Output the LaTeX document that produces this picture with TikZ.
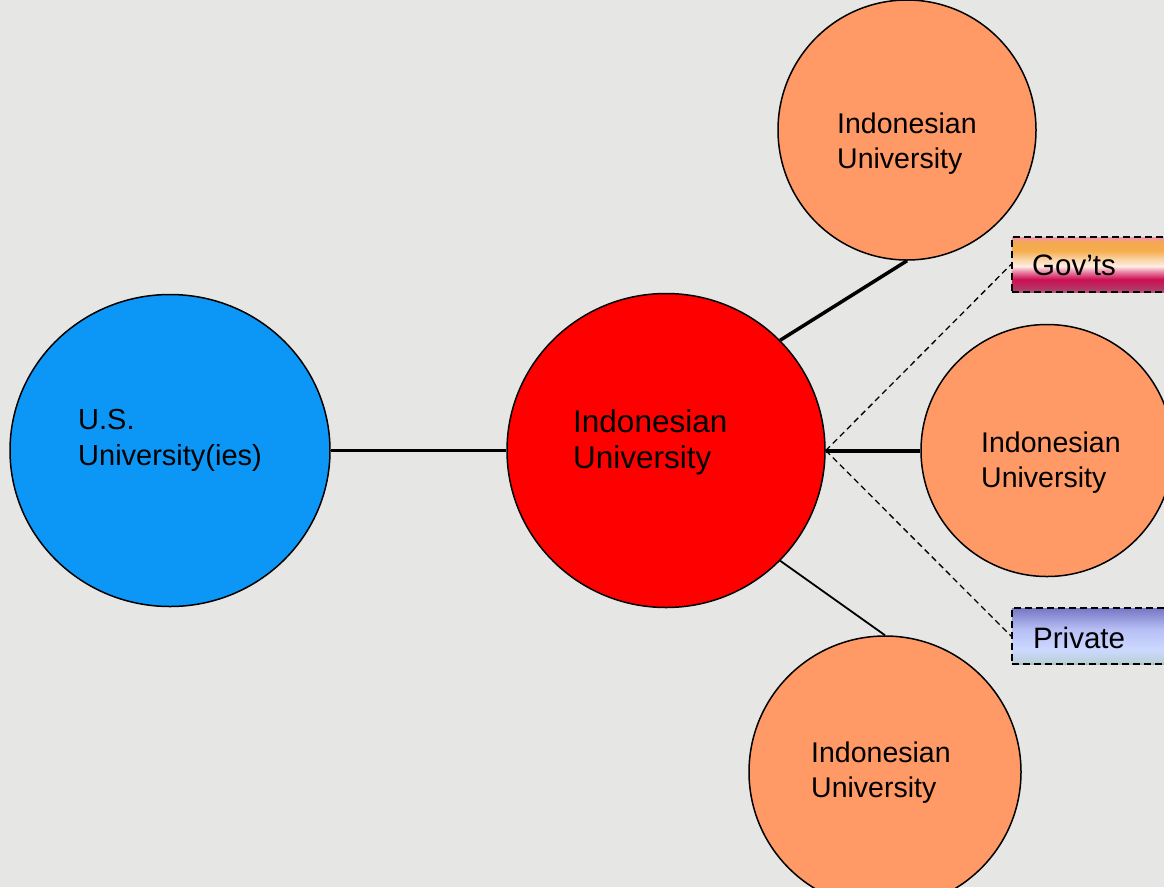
\documentclass[tikz,border=0pt]{standalone}
\usepackage{fontspec}
\setmainfont{Liberation Sans}
\usetikzlibrary{shapes.geometric}
\definecolor{bg}{RGB}{230,230,228}
\definecolor{usblue}{RGB}{12,150,245}
\definecolor{idorange}{RGB}{255,153,102}
\pgfdeclareverticalshading{govshade}{100bp}{%
  rgb(0bp)=(0.78,0.48,0.38);
  rgb(5bp)=(0.70,0.22,0.42);
  rgb(14bp)=(0.80,0.06,0.32);
  rgb(20bp)=(0.90,0.45,0.60);
  rgb(26bp)=(1.00,0.93,0.90);
  rgb(33bp)=(0.98,0.82,0.62);
  rgb(40bp)=(0.96,0.68,0.30);
  rgb(48bp)=(0.96,0.66,0.32);
  rgb(52bp)=(0.95,0.58,0.68);
  rgb(55bp)=(0.95,0.58,0.72)}
\pgfdeclareverticalshading{privshade}{100bp}{%
  rgb(0bp)=(0.52,0.62,0.56);
  rgb(5bp)=(0.74,0.82,0.86);
  rgb(16bp)=(0.80,0.85,1.00);
  rgb(34bp)=(0.72,0.75,0.96);
  rgb(56bp)=(0.42,0.42,0.74)}
\begin{document}
\begin{tikzpicture}[x=1pt,y=-1pt,
  unode/.style={ellipse, draw=black, line width=1.5pt, inner sep=0pt},
  txtred/.style={anchor=base west, inner sep=0pt, font=\fontsize{31.5}{36}\selectfont},
  txtus/.style={anchor=base west, inner sep=0pt, font=\fontsize{29}{36}\selectfont},
  txtor/.style={anchor=base west, inner sep=0pt, font=\fontsize{28.5}{35}\selectfont},
  txtbox/.style={anchor=base west, inner sep=0pt, font=\fontsize{29.5}{35}\selectfont},
  boxst/.style={rectangle, draw=black, line width=1.8pt, dash pattern=on 7pt off 4pt, inner sep=0pt, anchor=west},
  link/.style={draw=black},
  dlink/.style={draw=black, line width=1.3pt, dash pattern=on 6pt off 4pt}]
\useasboundingbox (0,0) rectangle (1164,887);
\clip (0,0) rectangle (1164,887);
\fill[bg] (0,0) rectangle (1164,887);

% circles
\node[unode, fill=usblue, minimum width=320pt, minimum height=312pt] (us) at (170,450.5) {};
\node[unode, fill=red, minimum width=318pt, minimum height=314pt] (id) at (666,450.5) {};
\node[unode, fill=idorange, minimum width=258pt, minimum height=260pt] (top) at (907,130) {};
\node[unode, fill=idorange, minimum width=252pt, minimum height=252pt] (right) at (1047,450.5) {};
\node[unode, fill=idorange, minimum width=272pt, minimum height=272pt] (bottom) at (885,772) {};

% boxes
\node[boxst, shading=govshade, minimum width=180pt, minimum height=55pt] (gov) at (1011,264.5) {};
\node[boxst, shading=privshade, minimum width=180pt, minimum height=56pt] (priv) at (1011,636) {};

% connectors
\draw[link, line width=3pt] (us.east) -- (id.west);
\draw[link, line width=3.5pt] (id.44) -- (top.south);
\draw[link, line width=4pt] (id.east) -- (right.west);
\draw[link, line width=1.8pt] (id.-44) -- (bottom.north);
\draw[dlink] (id.east) -- (gov.west);
\draw[dlink] (id.east) -- (priv.west);

% texts
\node[txtus] (us1) at (78,429) {U.S.};
\node[txtus] (us2) at (78,465) {University(ies)};
\node[txtred] (id1) at (573,432) {Indonesian};
\node[txtred] (id2) at (573,468) {University};
\node[txtor] (top1) at (837,133) {Indonesian};
\node[txtor] (top2) at (837,168) {University};
\node[txtor] (right1) at (981,452) {Indonesian};
\node[txtor] (right2) at (981,487) {University};
\node[txtor] (bot1) at (811,762) {Indonesian};
\node[txtor] (bot2) at (811,797) {University};
\node[txtbox] (govt) at (1032,275) {Gov’ts};
\node[txtbox] (privt) at (1033,648) {Private};
\end{tikzpicture}
\end{document}
